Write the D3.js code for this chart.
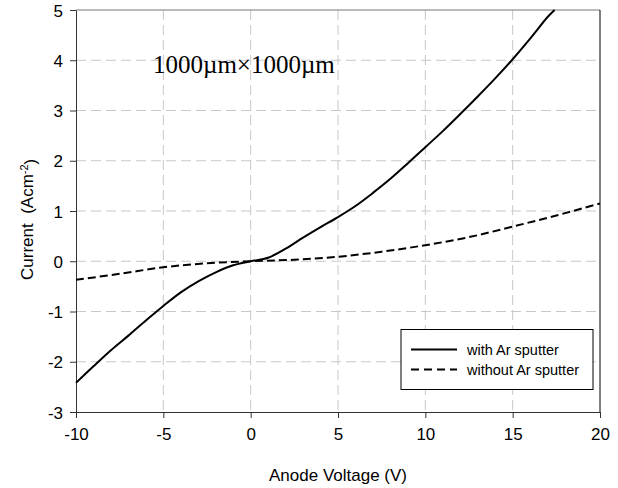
<!DOCTYPE html>
<html>
<head>
<meta charset="utf-8">
<script src="https://cdn.jsdelivr.net/npm/d3@7"></script>
<style>
  body { margin: 0; background: #fff; }
  svg { display: block; font-family: Arial, "Liberation Sans", sans-serif; }
</style>
</head>
<body>
<div id="chart"></div>
<script>
// values
const xTicks = [-10, -5, 0, 5, 10, 15, 20];
const yTicks = [-3, -2, -1, 0, 1, 2, 3, 4, 5];

const withArV = [-10, -9, -8, -7, -6, -5, -4, -3, -2, -1, 0, 1, 2, 3, 4, 5, 6, 7, 8, 9, 10, 11, 12, 13, 14, 15, 16, 17, 17.4];
const withArI = [-2.42, -2.09, -1.77, -1.48, -1.18, -0.89, -0.62, -0.40, -0.22, -0.08, 0, 0.07, 0.25, 0.47, 0.68, 0.88, 1.10, 1.36, 1.64, 1.95, 2.27, 2.59, 2.93, 3.28, 3.64, 4.02, 4.43, 4.86, 5.0];

const withoutArV = [-10, -7.5, -5, -2.5, 0, 2.5, 5, 7.5, 10, 12.5, 15, 17.5, 20];
const withoutArI = [-0.37, -0.25, -0.12, -0.04, 0, 0.03, 0.09, 0.19, 0.32, 0.48, 0.69, 0.91, 1.15];

const seriesNames = ["with Ar sputter", "without Ar sputter"];

const width = 618, height = 488;
const margin = { top: 10, right: 18, bottom: 76, left: 76 };

const svg = d3.select("#chart").append("svg")
    .attr("width", width)
    .attr("height", height);

const x = d3.scaleLinear().domain([-10, 20]).range([margin.left, width - margin.right]);
const y = d3.scaleLinear().domain([-3, 5]).range([height - margin.bottom, margin.top]);

// grid
svg.append("g")
    .selectAll("line")
    .data(xTicks.slice(1, -1))
    .join("line")
    .attr("x1", d => x(d)).attr("x2", d => x(d))
    .attr("y1", y(5)).attr("y2", y(-3))
    .attr("stroke", "#c8c8c8")
    .attr("stroke-dasharray", "10,5");

svg.append("g")
    .selectAll("line")
    .data(yTicks.slice(1, -1))
    .join("line")
    .attr("x1", x(-10)).attr("x2", x(20))
    .attr("y1", d => y(d)).attr("y2", d => y(d))
    .attr("stroke", "#c8c8c8")
    .attr("stroke-dasharray", "10,5");

// frame: top and right
svg.append("line")
    .attr("x1", x(-10)).attr("x2", x(20))
    .attr("y1", y(5)).attr("y2", y(5))
    .attr("stroke", "#777");
svg.append("line")
    .attr("x1", x(20)).attr("x2", x(20))
    .attr("y1", y(5)).attr("y2", y(-3))
    .attr("stroke", "#000");

// axes (plain hyphen for negatives, like the original)
const fmt = d => String(d);
const xAxis = svg.append("g")
    .attr("transform", `translate(0,${y(-3)})`)
    .call(d3.axisBottom(x).tickValues(xTicks).tickFormat(fmt).tickSize(6).tickPadding(10).tickSizeOuter(0));
const yAxis = svg.append("g")
    .attr("transform", `translate(${x(-10)},0)`)
    .call(d3.axisLeft(y).tickValues(yTicks).tickFormat(fmt).tickSize(6).tickPadding(7).tickSizeOuter(0));

[xAxis, yAxis].forEach(a => {
    a.selectAll("path, line").attr("stroke", "#333");
    a.selectAll("text")
        .attr("fill", "#000")
        .style("font-size", "17px")
        .style("font-family", "Arial, 'Liberation Sans', sans-serif");
});
yAxis.selectAll("text").attr("dy", "0.36em");

// lines
const line = d3.line()
    .x(d => x(d[0]))
    .y(d => y(d[1]))
    .curve(d3.curveCatmullRom.alpha(0.5));

svg.append("path")
    .datum(withArV.map((v, i) => [v, withArI[i]]))
    .attr("fill", "none")
    .attr("stroke", "#000")
    .attr("stroke-width", 2)
    .attr("d", line);

svg.append("path")
    .datum(withoutArV.map((v, i) => [v, withoutArI[i]]))
    .attr("fill", "none")
    .attr("stroke", "#000")
    .attr("stroke-width", 2)
    .attr("stroke-dasharray", "8,4")
    .attr("d", line);

// annotation
svg.append("text")
    .attr("x", 153)
    .attr("y", 73)
    .style("font-family", "'Times New Roman', 'Liberation Serif', serif")
    .style("font-size", "25px")
    .attr("fill", "#000")
    .text("1000\u00b5m\u00d71000\u00b5m");

// axis titles
svg.append("text")
    .attr("x", (x(-10) + x(20)) / 2)
    .attr("y", 481)
    .attr("text-anchor", "middle")
    .style("font-size", "17px")
    .text("Anode Voltage (V)");

const yTitle = svg.append("text")
    .attr("transform", "translate(33,280) rotate(-90)")
    .attr("text-anchor", "start")
    .style("font-size", "17px");
yTitle.append("tspan").text("Current\u00a0\u00a0(Acm");
yTitle.append("tspan").attr("dy", "-0.45em").style("font-size", "11px").text("-2");
yTitle.append("tspan").attr("dy", "0.45em").text(")");

// legend
const legend = svg.append("g");
legend.append("rect")
    .attr("x", 401).attr("y", 329.5)
    .attr("width", 192).attr("height", 60)
    .attr("fill", "#fff")
    .attr("stroke", "#000");

seriesNames.forEach((name, i) => {
    const ly = 349.5 + i * 20;
    legend.append("line")
        .attr("x1", 411).attr("x2", 457)
        .attr("y1", ly).attr("y2", ly)
        .attr("stroke", "#000")
        .attr("stroke-width", 2)
        .attr("stroke-dasharray", i === 1 ? "8,5" : null);
    legend.append("text")
        .attr("x", 467)
        .attr("y", ly + 5)
        .style("font-size", "14.5px")
        .text(name);
});
</script>
</body>
</html>
